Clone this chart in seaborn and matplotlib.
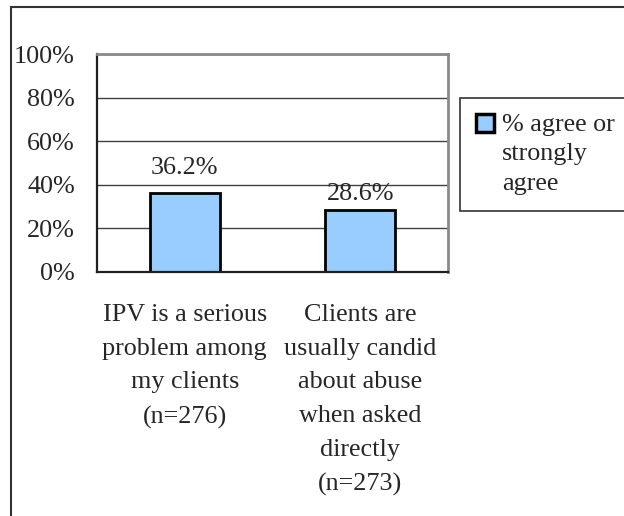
import matplotlib
matplotlib.use('Agg')
import matplotlib.pyplot as plt
import matplotlib.ticker as mticker
from matplotlib.patches import Rectangle
import seaborn as sns

# statements and share of respondents who agree
categories = ['IPV is a serious\nproblem among\nmy clients\n(n=276)',
              'Clients are\nusually candid\nabout abuse\nwhen asked\ndirectly\n(n=273)']
pct_agree = [36.2, 28.6]
series_name = '% agree or\nstrongly\nagree'
y_ticks = [0, 20, 40, 60, 80, 100]

sns.set_style('white')
plt.rcParams['font.family'] = ['Liberation Serif', 'DejaVu Serif']
fs = 18.8

fig = plt.figure(figsize=(6.24, 5.16), dpi=100)
ax = fig.add_axes([97 / 624, 1 - 272 / 516, 351 / 624, 218 / 516])

sns.barplot(x=categories, y=pct_agree, color='#99CCFF', edgecolor='black',
            linewidth=2, width=0.4, saturation=1, label=series_name, ax=ax)

ax.set_xlim(-0.5, len(categories) - 0.5)
ax.set_ylim(0, 100)
ax.set_yticks(y_ticks)
ax.yaxis.set_major_formatter(mticker.FuncFormatter(lambda v, p: f'{v:.0f}%'))
ax.yaxis.grid(True, color='#404040', linewidth=1)
ax.set_axisbelow(True)

# tick marks between categories, labels under bars
ax.set_xticks([i - 0.5 for i in range(len(categories) + 1)])
ax.set_xticklabels([])
ax.set_xticks(range(len(categories)), minor=True)
ax.set_xticklabels(categories, minor=True, fontsize=fs, linespacing=1.69)
ax.tick_params(axis='x', which='major', direction='out', length=6, width=1.2, color='#404040')
ax.tick_params(axis='x', which='minor', length=0, pad=23)
ax.tick_params(axis='y', direction='out', length=6, width=1.2, color='#404040', pad=10, labelsize=fs)
ax.set_xlabel('')
ax.set_ylabel('')

for side in ['top', 'right']:
    ax.spines[side].set_color('#8a8a8a')
    ax.spines[side].set_linewidth(2)
for side in ['left', 'bottom']:
    ax.spines[side].set_color('#202020')
    ax.spines[side].set_linewidth(1.6)

label_offsets = [10, 3]
for i, v in enumerate(pct_agree):
    ax.annotate(f'{v:.1f}%', (i, v), xytext=(0, label_offsets[i]), textcoords='offset points',
                ha='center', va='bottom', fontsize=fs)

leg = ax.legend(loc='upper left', bbox_to_anchor=(460 / 624, 1 - 98 / 516),
                bbox_transform=fig.transFigure, borderaxespad=0, fontsize=fs,
                frameon=True, fancybox=False, framealpha=1, edgecolor='#333333',
                handlelength=0.7, handleheight=0.7, handletextpad=0.3, borderpad=0.6)
leg.get_frame().set_linewidth(1.2)
leg.get_texts()[0].set_linespacing(1.45)
for h in leg.legend_handles:
    h.set_linewidth(2.5)
# put the swatch next to the first line of the label
for col in leg._legend_handle_box.get_children():
    for item in col.get_children():
        item.align = 'top'

# outer chart-area border
fig.patches.append(Rectangle((11 / 624, -0.2), 1.2, 1.2 - 7 / 516, transform=fig.transFigure,
                             fill=False, edgecolor='#333333', linewidth=1.5))

fig.savefig('out.png', dpi=100)
